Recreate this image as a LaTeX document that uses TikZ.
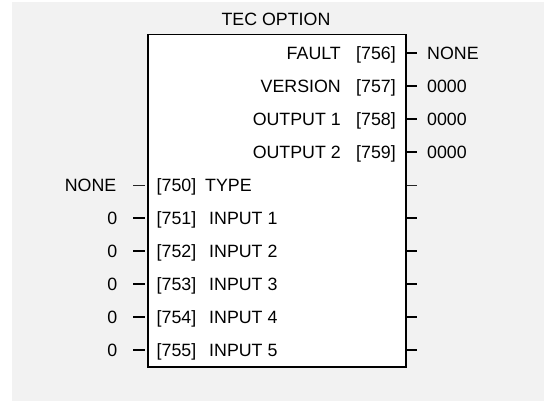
\documentclass[tikz,border=0pt]{standalone}
\usepackage{fontspec}
\setmainfont{Liberation Sans}
\usetikzlibrary{positioning}
\definecolor{panelgray}{RGB}{242,242,242}
\tikzset{
  lbl/.style={inner sep=0pt, font=\fontsize{17.8}{20}\selectfont},
  stub/.style={line width=1.8pt},
  thinstub/.style={line width=0.9pt, black!85},
  tecbox/.style={draw, line width=1.5pt, fill=white, inner sep=0pt}
}
\begin{document}
\begin{tikzpicture}[x=1pt,y=-1pt]
        \useasboundingbox (0,0) rectangle (544,401);
        \fill[panelgray] (12,2) rectangle (544,401);
        \node[tecbox, minimum width=258pt, minimum height=332pt, anchor=north west] (tec) at (147,34) {};
        \node[lbl, anchor=base] (title) at (276,25.5) {TEC OPTION};
        % output parameters
        \foreach \n/\p/\v [count=\i from 0] in {FAULT/756/NONE, VERSION/757/0000, OUTPUT 1/758/0000, OUTPUT 2/759/0000}{
            \node[lbl, anchor=base east] (onum\i) at (396,{59.4+33*\i}) {[\p]};
            \node[lbl, anchor=base east] (oname\i) at (341,{59.4+33*\i}) {\n};
            \node[lbl, anchor=base west] (oval\i) at (427,{59.4+33*\i}) {\v};
            \coordinate (oa\i) at (406.5,{53+33*\i});
            \coordinate (ob\i) at (417,{53+33*\i});
            \draw[stub] (oa\i) -- (ob\i);
        }
        % type input
        \node[lbl, anchor=base west] (inum4) at (156.5,191.4) {[750]};
        \node[lbl, anchor=base west] (iname4) at (205,191.4) {TYPE};
        \node[lbl, anchor=base east] (ival4) at (116.5,191.4) {NONE};
        \coordinate (ia4) at (133,185);
        \coordinate (ib4) at (144.5,185);
        \coordinate (ra4) at (406.5,185);
        \coordinate (rb4) at (417,185);
        \draw[thinstub] (ia4) -- (ib4);
        \draw[thinstub] (ra4) -- (rb4);
        % numbered inputs
        \foreach \k [count=\i from 5] in {1,...,5}{
            \node[lbl, anchor=base west] (inum\i) at (156.5,{59.4+33*\i}) {[75\k]};
            \node[lbl, anchor=base west] (iname\i) at (209,{59.4+33*\i}) {INPUT \k};
            \node[lbl, anchor=base east] (ival\i) at (117.5,{59.4+33*\i}) {0};
            \coordinate (ia\i) at (133,{53+33*\i});
            \coordinate (ib\i) at (144.5,{53+33*\i});
            \coordinate (ra\i) at (406.5,{53+33*\i});
            \coordinate (rb\i) at (417,{53+33*\i});
            \draw[stub] (ia\i) -- (ib\i);
            \draw[stub] (ra\i) -- (rb\i);
        }
\end{tikzpicture}
\end{document}
